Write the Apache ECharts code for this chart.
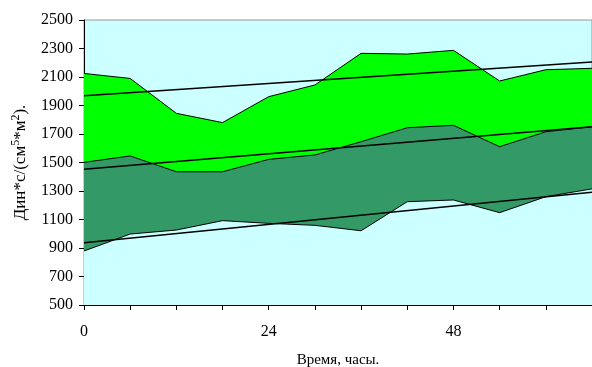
<!DOCTYPE html>
<html>
<head>
<meta charset="utf-8">
<script src="https://cdn.jsdelivr.net/npm/echarts@6/dist/echarts.min.js"></script>
<style>
  html, body { margin: 0; padding: 0; background: #fff; }
  #chart { width: 592px; height: 367px; }
</style>
</head>
<body>
<div id="chart"></div>
<script>
// hours of observation
var hours = ['0', '6', '12', '18', '24', '30', '36', '42', '48', '54', '60', '66'];

// upper, middle and lower bounds
var upper = [2125, 2090, 1845, 1780, 1962, 2044, 2266, 2261, 2287, 2072, 2151, 2161];
var middle = [1501, 1546, 1435, 1435, 1522, 1553, 1646, 1744, 1761, 1611, 1716, 1751];
var lower = [879, 998, 1026, 1092, 1073, 1059, 1021, 1225, 1237, 1148, 1260, 1315];

// linear trends: value at first hour, value at last hour
var trendUpper = [1969, 2205];
var trendMiddle = [1452, 1751];
var trendLower = [937, 1291];

var font = 'Liberation Serif';

function trend(ends) {
    return [[0, ends[0]], [hours.length - 1, ends[1]]];
}

function area(name, data, fill) {
    return {
        name: name,
        type: 'line',
        data: data,
        symbol: 'none',
        lineStyle: { color: '#000', width: 1 },
        areaStyle: { color: fill, opacity: 1, origin: 'start' },
        silent: true
    };
}

function line(name, ends) {
    return {
        name: name,
        type: 'line',
        data: trend(ends),
        symbol: 'none',
        lineStyle: { color: '#000', width: 1.5 },
        z: 5,
        silent: true
    };
}

var myChart = echarts.init(document.getElementById('chart'));

var option = {
    animation: false,
    backgroundColor: '#ffffff',
    grid: {
        left: 84,
        right: 0,
        top: 20,
        bottom: 62,
        outerBoundsMode: 'none',
        containLabel: false,
        show: true,
        backgroundColor: '#CCFFFF',
        borderColor: '#999',
        borderWidth: 1
    },
    xAxis: {
        type: 'category',
        data: hours,
        boundaryGap: false,
        name: 'Время, часы.',
        nameLocation: 'middle',
        nameGap: 48,
        nameTextStyle: { fontFamily: font, fontSize: 15, color: '#000' },
        axisLine: { lineStyle: { color: '#000', width: 1 } },
        axisTick: { interval: 0, length: 5, lineStyle: { color: '#000' } },
        axisLabel: {
            interval: 3,
            margin: 19,
            fontFamily: font,
            fontSize: 16,
            color: '#000'
        },
        splitLine: { show: false }
    },
    yAxis: {
        type: 'value',
        min: 500,
        max: 2500,
        interval: 200,
        name: 'Дин*с/(см{sup|5}*м{sup|2}).',
        nameLocation: 'middle',
        nameRotate: 90,
        nameGap: 52,
        nameTextStyle: {
            fontFamily: font,
            fontSize: 17,
            color: '#000',
            rich: {
                sup: { fontFamily: font, fontSize: 12, color: '#000', verticalAlign: 'top', padding: [0, 0, 10, 0] }
            }
        },
        axisLine: { show: true, lineStyle: { color: '#000', width: 1 } },
        axisTick: { show: true, length: 5, lineStyle: { color: '#000' } },
        axisLabel: {
            margin: 11,
            fontFamily: font,
            fontSize: 16,
            color: '#000',
            formatter: function (v) { return String(v); }
        },
        splitLine: { show: false }
    },
    series: [
        area('Верхняя граница', upper, '#00FF00'),
        area('Средняя граница', middle, '#339966'),
        area('Нижняя граница', lower, '#CCFFFF'),
        line('Тренд верхней', trendUpper),
        line('Тренд средней', trendMiddle),
        line('Тренд нижней', trendLower)
    ]
};

myChart.setOption(option);
</script>
</body>
</html>
